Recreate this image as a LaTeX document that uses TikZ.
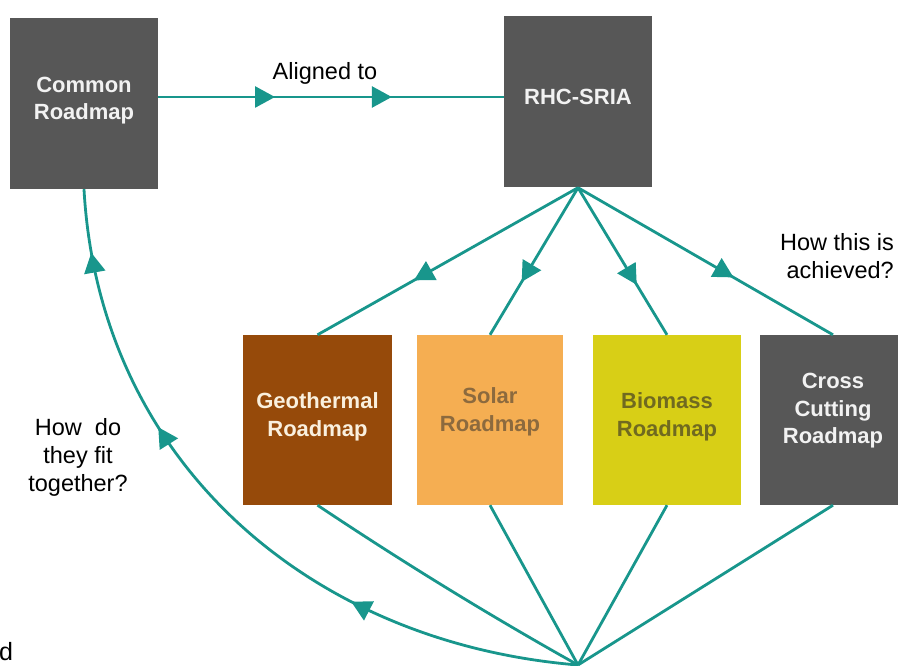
\documentclass[tikz,border=0pt]{standalone}
\usepackage{fontspec}
\setmainfont{Liberation Sans}
\usetikzlibrary{arrows.meta,decorations.markings}
\definecolor{tealline}{RGB}{24,150,140}
\definecolor{darkbox}{RGB}{87,87,87}
\definecolor{geobox}{RGB}{150,74,10}
\definecolor{solarbox}{RGB}{245,174,82}
\definecolor{biobox}{RGB}{216,207,22}
\definecolor{geotext}{RGB}{250,240,222}
\definecolor{solartext}{RGB}{140,106,62}
\definecolor{biotext}{RGB}{112,106,32}
\definecolor{lighttext}{RGB}{242,242,242}
\begin{document}
\begin{tikzpicture}[x=1pt,y=-1pt,
  box/.style={rectangle, inner sep=0pt, minimum width=148pt, minimum height=171pt},
  lbl/.style={align=center, inner sep=0pt, font=\fontsize{22}{27.5}\selectfont\bfseries},
  plain/.style={align=center, inner sep=0pt, font=\fontsize{23.5}{28}\selectfont},
  conn/.style={draw=tealline, line width=2.8pt},
  arrs/.style={postaction={decorate, decoration={markings,
      mark=at position #1 with {\arrow[tealline]{Triangle[length=20pt,width=21pt]}}}}}
]
\useasboundingbox (0,0) rectangle (898,666);

% boxes
\node[box, fill=darkbox, label={[lbl, text=lighttext, yshift=3pt]center:Common\\Roadmap}] (common) at (84,103.5) {};
\node[box, fill=darkbox, label={[lbl, text=lighttext, yshift=5pt]center:RHC-SRIA}] (rhc) at (578,102) {};
\node[box, minimum width=149pt, minimum height=170pt, fill=geobox, label={[lbl, text=geotext, yshift=3pt]center:Geothermal\\Roadmap}] (geo) at (317.5,420) {};
\node[box, minimum width=146pt, minimum height=170pt, fill=solarbox, label={[lbl, text=solartext, yshift=8pt]center:Solar\\Roadmap}] (solar) at (490,420) {};
\node[box, minimum width=148pt, minimum height=170pt, fill=biobox, label={[lbl, text=biotext, yshift=3pt]center:Biomass\\Roadmap}] (bio) at (667,420) {};
\node[box, minimum width=146pt, minimum height=170pt, fill=darkbox, label={[lbl, text=lighttext, yshift=9pt]center:Cross\\Cutting\\Roadmap}] (cross) at (833,420) {};

\coordinate (hub) at (578,665);

% free texts
\node[plain] (aligned) at (325,73) {Aligned to};
\node[plain, align=right, anchor=east] (achieved) at (894,256) {How this is\\achieved?};
\node[plain] (fit) at (78,457) {How~ do\\they fit\\together?};
\node[font=\fontsize{25}{28}\selectfont, inner sep=0pt, anchor=base west] (dchar) at (-1,660) {d};

% connectors
\draw[conn, arrs=0.338, arrs=0.676] ([yshift=6.5pt]common.east) -- ([yshift=5pt]rhc.west);

\draw[conn, arrs=0.63] (rhc.south) -- (geo.north);
\draw[conn, arrs=0.64] (rhc.south) -- (solar.north);
\draw[conn, arrs=0.66] (rhc.south) -- (bio.north);
\draw[conn, arrs=0.61] (rhc.south) -- (cross.north);

\draw[conn] (geo.south) .. controls (407,565) and (494,618) .. (hub);
\draw[conn] (solar.south) -- (hub);
\draw[conn] (bio.south) -- (hub);
\draw[conn] (cross.south) -- (hub);

\draw[conn, arrs=0.315, arrs=0.665, arrs=0.915] (hub) .. controls (308,643) and (99,460) .. (common.south);
\end{tikzpicture}
\end{document}
